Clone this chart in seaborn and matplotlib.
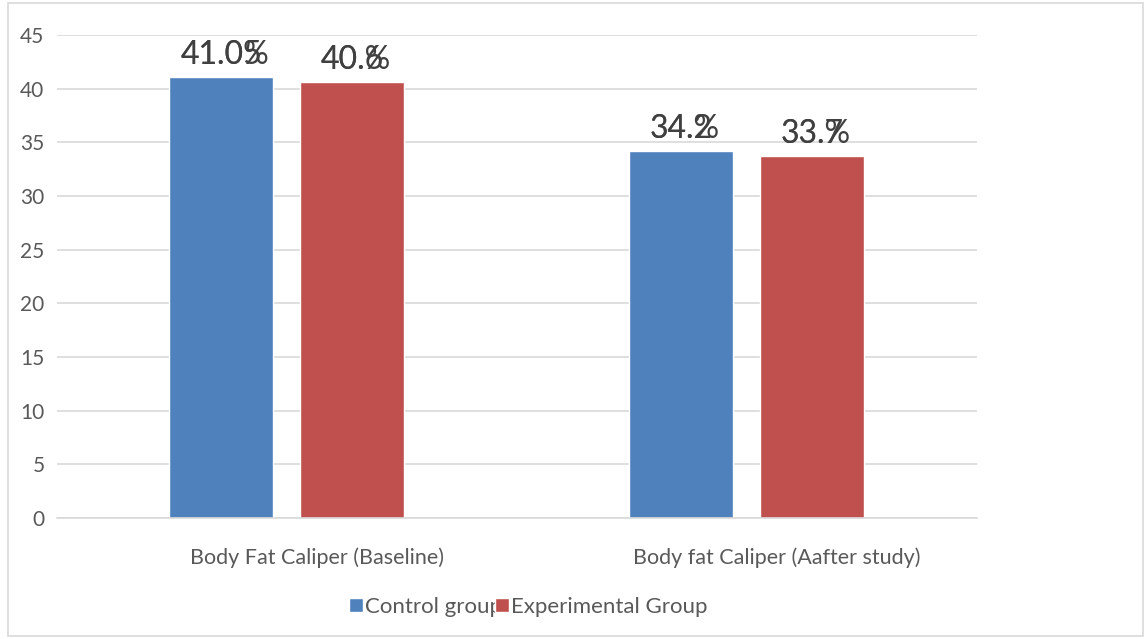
import matplotlib
matplotlib.use("Agg")
import matplotlib.pyplot as plt
import matplotlib.transforms as mtransforms
import seaborn as sns
import pandas as pd
from matplotlib.patches import Rectangle

categories = ["Body Fat Caliper (Baseline)", "Body fat Caliper (Aafter study)"]
groups = ["Control group", "Experimental Group"]
control_values = [41.05, 34.2]
experimental_values = [40.6, 33.7]
label_texts_control = ["41.05", "34.2"]
label_texts_experimental = ["40.6", "33.7"]
y_ticks = [0, 5, 10, 15, 20, 25, 30, 35, 40, 45]
colors = ["#4F81BD", "#C0504D"]

rows = []
for c, v in zip(categories, control_values):
    rows.append({"category": c, "group": groups[0], "value": v})
for c, v in zip(categories, experimental_values):
    rows.append({"category": c, "group": groups[1], "value": v})
df = pd.DataFrame(rows)

sns.set_theme(style="white")
plt.rcParams["font.family"] = ["Lato", "DejaVu Sans"]
text_color = "#595959"

fig = plt.figure(figsize=(11.46, 6.39), dpi=100)
ax = fig.add_axes([0.0497, 0.1894, 0.8028, 0.7558])

sns.barplot(data=df, x="category", y="value", hue="group", order=categories,
            hue_order=groups, palette=colors, saturation=1, width=0.5696,
            gap=0.206, ax=ax, legend=True)

ax.set_ylim(0, 45)
ax.set_xlim(-0.5, 1.5)
ax.set_yticks(y_ticks)
ax.set_yticklabels([str(t) for t in y_ticks])
ax.yaxis.grid(True, color="#d9d9d9", linewidth=1.2)
ax.set_axisbelow(True)
for s in ["top", "right", "left"]:
    ax.spines[s].set_visible(False)
ax.spines["bottom"].set_color("#d9d9d9")
ax.spines["bottom"].set_linewidth(1.2)
ax.tick_params(axis="y", length=0, labelsize=15, colors=text_color, pad=9)
ax.tick_params(axis="x", length=0, labelsize=15.5, colors=text_color, pad=21)
ax.set_xlabel("")
ax.set_ylabel("")
shift = mtransforms.ScaledTranslation(0.3, 0, fig.dpi_scale_trans)
for lbl in ax.get_xticklabels():
    lbl.set_transform(lbl.get_transform() + shift)

# legend
handles, labels = ax.get_legend_handles_labels()
ax.legend_.remove()
fig.legend(handles, labels, loc="center", bbox_to_anchor=(0.461, 0.05), ncol=2,
           frameon=False, fontsize=16, handlelength=0.6, handleheight=0.6,
           handletextpad=0.1, columnspacing=-0.3, labelcolor=text_color)

# data labels (with overlapping % sign as in reference)
fig.canvas.draw()
renderer = fig.canvas.get_renderer()
containers = ax.containers
all_texts = [label_texts_control, label_texts_experimental]
all_vals = [control_values, experimental_values]
for cont, texts, vals in zip(containers, all_texts, all_vals):
    for bar, s, v in zip(cont, texts, vals):
        x = bar.get_x() + bar.get_width() / 2
        y = bar.get_height()
        t = ax.annotate(s, (x, y), xytext=(0, 5), textcoords="offset points",
                        ha="center", va="bottom", fontsize=23, color="#404040")
        fig.canvas.draw()
        bb = t.get_window_extent(renderer)
        x0 = ax.transData.inverted().transform((bb.x0, bb.y0))[0]
        ax.annotate(s[:-1] + "%", (x0, y), xytext=(0, 5), textcoords="offset points",
                    ha="left", va="bottom", fontsize=23, color="#404040")

fig.patches.append(Rectangle((0.007, 0.005), 0.99, 0.99, transform=fig.transFigure,
                             fill=False, edgecolor="#d9d9d9", linewidth=1.2))

fig.savefig("out.png", dpi=100)
